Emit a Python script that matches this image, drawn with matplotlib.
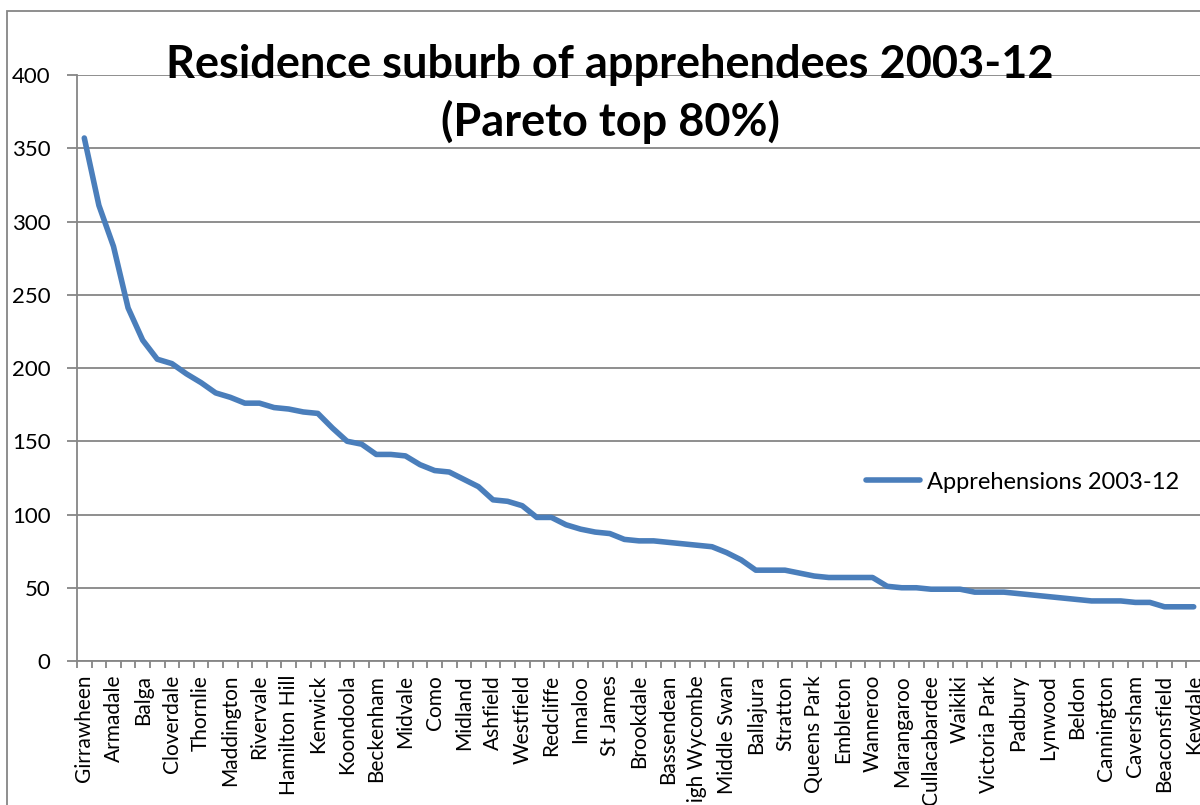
import matplotlib
matplotlib.use("Agg")
import matplotlib.pyplot as plt
from matplotlib.patches import Rectangle
import numpy as np

plt.rcParams['font.family'] = ['Lato', 'DejaVu Sans']

# every second suburb carries a label on the category axis
labels = ['Girrawheen', 'Armadale', 'Balga', 'Cloverdale', 'Thornlie',
          'Maddington', 'Rivervale', 'Hamilton Hill', 'Kenwick', 'Koondoola',
          'Beckenham', 'Midvale', 'Como', 'Midland', 'Ashfield', 'Westfield',
          'Redcliffe', 'Innaloo', 'St James', 'Brookdale', 'Bassendean',
          'High Wycombe', 'Middle Swan', 'Ballajura', 'Stratton',
          'Queens Park', 'Embleton', 'Wanneroo', 'Marangaroo',
          'Cullacabardee', 'Waikiki', 'Victoria Park', 'Padbury', 'Lynwood',
          'Beldon', 'Cannington', 'Caversham', 'Beaconsfield', 'Kewdale']

values = [357, 311, 283, 241, 219, 206, 203, 196, 190, 183,
          180, 176, 176, 173, 172, 170, 169, 159, 150, 148,
          141, 141, 140, 134, 130, 129, 124, 119, 110, 109,
          106, 98, 98, 93, 90, 88, 87, 83, 82, 82,
          81, 80, 79, 78, 74, 69, 62, 62, 62, 60,
          58, 57, 57, 57, 57, 51, 50, 50, 49, 49,
          49, 47, 47, 47, 46, 45, 44, 43, 42, 41,
          41, 41, 40, 40, 37, 37, 37]

series_name = 'Apprehensions 2003-12'
title_lines = ['Residence suburb of apprehendees 2003-12', '(Pareto top 80%)']

W, H = 1200, 805
fig = plt.figure(figsize=(W / 100, H / 100), dpi=100)
ax = fig.add_axes([77 / W, 1 - 661 / H, 1124 / W, 586 / H])

n = len(values)
x = np.arange(n) + 0.5
line, = ax.plot(x, values, color='#4A7EBB', lw=4.0, solid_capstyle='round',
                solid_joinstyle='round', zorder=3, label=series_name)

ax.set_xlim(0, n)
ax.set_ylim(0, 400)
ax.set_yticks(np.arange(0, 401, 50))
ax.grid(axis='y', color='#868686', lw=1.3)
ax.set_axisbelow(True)

ax.set_xticks(np.arange(n + 1))
ax.set_xticklabels([])
ax.set_xticks(x[::2], minor=True)
ax.set_xticklabels(labels, minor=True, rotation=90, fontsize=15)
ax.tick_params(axis='x', which='major', length=5, width=1.3, color='#868686')
ax.tick_params(axis='x', which='minor', length=0, pad=10)
ax.tick_params(axis='y', length=7, width=1.3, color='#868686', labelsize=16,
               pad=12)

for side in ['top', 'right']:
    ax.spines[side].set_visible(False)
for side in ['left', 'bottom']:
    ax.spines[side].set_color('#868686')
    ax.spines[side].set_linewidth(1.3)

fig.text(610 / W, 1 - 65 / H, title_lines[0], ha='center', va='center',
         fontsize=32.5, fontweight='bold')
fig.text(610 / W, 1 - 122 / H, title_lines[1], ha='center', va='center',
         fontsize=32.5, fontweight='bold')

fig.legend(handles=[line], loc='center left',
           bbox_to_anchor=(866 / W, 1 - 482 / H), frameon=False,
           fontsize=17, handlelength=2.3, handletextpad=0.3, borderpad=0,
           borderaxespad=0)

# outer chart-area border (cut off at the right and bottom)
fig.add_artist(Rectangle((7 / W, -0.1), 1.1, 1.1 - 11 / H,
                         transform=fig.transFigure, fill=False,
                         edgecolor='#868686', lw=1.3))

fig.savefig('out.png', dpi=100)
